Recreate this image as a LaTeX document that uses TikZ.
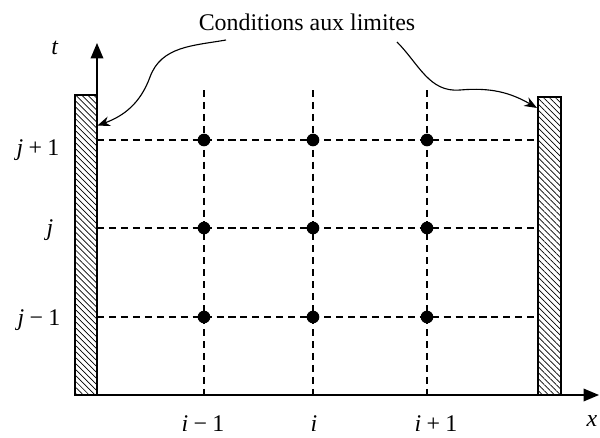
\documentclass[tikz,border=0pt]{standalone}
\usepackage{fontspec}
\setmainfont{Liberation Serif}
\usetikzlibrary{arrows.meta,patterns.meta,calc}

\begin{document}
\begin{tikzpicture}[
  x=0.025cm,y=0.025cm,
  font=\fontsize{17}{20}\selectfont,
  wall/.style={draw=black,line width=1.4pt,inner sep=0pt,pattern={Lines[angle=-45,distance=3pt,line width=0.5pt]}},
  axisline/.style={line width=1pt,-{Triangle[width=9pt,length=11pt]}},
  gridline/.style={dash pattern=on 5pt off 3.5pt,line width=1pt},
  dot/.style={circle,fill=black,inner sep=0pt,minimum size=9pt},
  lbl/.style={inner sep=1pt},
  pointer/.style={-{Stealth[length=9pt,width=7pt]},line width=0.8pt}
]
\useasboundingbox (0,0) rectangle (600,437);
\node[lbl] (title) at (307,415) {Conditions aux limites};
\coordinate (origin) at (97,42);
\coordinate (xend) at (599,42);
\coordinate (tend) at (97,394);
\coordinate (lstart) at (226,397);
\coordinate (rstart) at (397,395);
% grid
\foreach \c in {204,313,427}
  \draw[gridline] (\c,347) -- (\c,42);
\foreach \r in {297,209,120}
  \draw[gridline] (97,\r) -- (538,\r);
\foreach \c/\cn in {204/1,313/2,427/3}
  \foreach \r/\rn in {297/3,209/2,120/1}
    \node[dot] (d-\cn-\rn) at (\c,\r) {};
% axes
\draw[axisline] (origin) -- (xend);
\draw[axisline] (origin) -- (tend);
% walls
\node[wall,minimum width=0.55cm,minimum height=7.5cm] (leftwall) at (86,192) {};
\node[wall,minimum width=0.575cm,minimum height=7.45cm] (rightwall) at (549.5,191) {};
\draw[pointer] (lstart) to[out=190,in=70] (150,360) to[out=-110,in=20] ($(leftwall.north east)+(0,-31)$);
\draw[pointer] (rstart) to[out=-45,in=185] (460,347) to[out=5,in=150] ($(rightwall.north west)+(0,-12)$);
% labels
\node[lbl] (tlabel) at (55,389) {\textit{t}};
\node[lbl] (xlabel) at (592,16) {\textit{x}};
\node[lbl] (jplus) at (38,287) {\textit{j}\:+\:1};
\node[lbl] (jmid) at (50,207) {\textit{j}};
\node[lbl] (jminus) at (39,117) {\textit{j}\:−\:1};
\node[lbl] (iminus) at (203,13) {\textit{i}\:−\:1};
\node[lbl] (imid) at (314,13) {\textit{i}};
\node[lbl] (iplus) at (436,13) {\textit{i}\:+\:1};
\end{tikzpicture}
\end{document}
